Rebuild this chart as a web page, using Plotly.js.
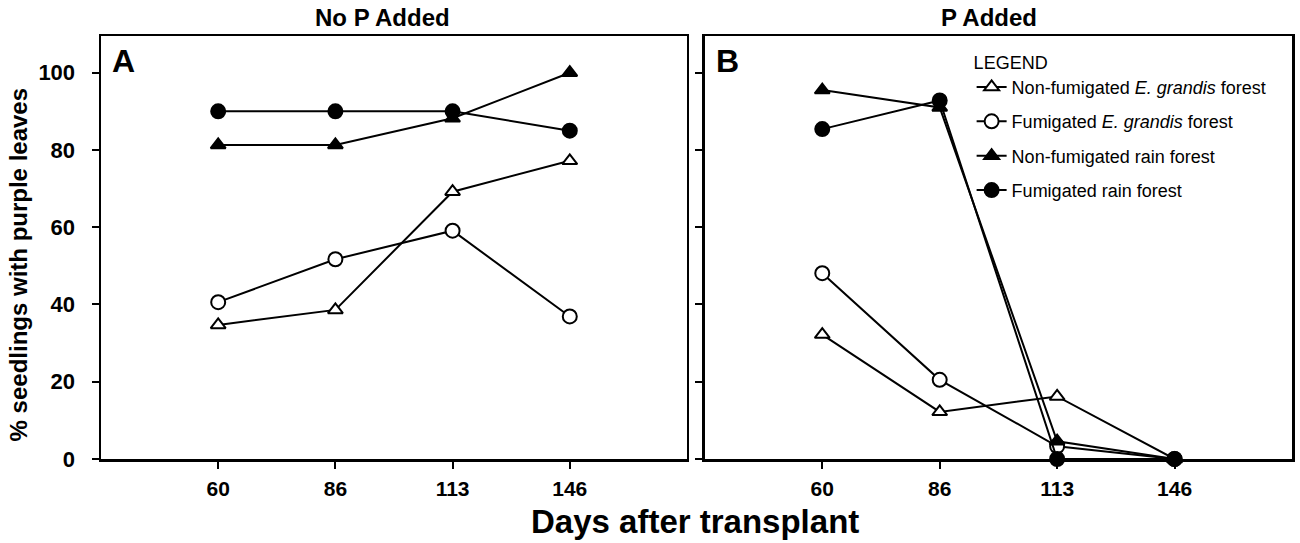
<!DOCTYPE html>
<html>
<head>
<meta charset="utf-8">
<script src="https://cdn.plot.ly/plotly-3.0.1.min.js"></script>
<style>html,body{margin:0;padding:0;background:#fff;}#chart{width:1300px;height:543px;}</style>
</head>
<body>
<div id="chart"></div>
<script>
const days = ['60', '86', '113', '146'];
const seriesNames = [
  'Non-fumigated <i>E. grandis</i> forest',
  'Fumigated <i>E. grandis</i> forest',
  'Non-fumigated rain forest',
  'Fumigated rain forest'
];
// Panel A: No P added
const noP_nonFumEgrandis = [34.7, 38.6, 69.2, 77.2];
const noP_fumEgrandis    = [40.6, 51.7, 59.1, 36.9];
const noP_nonFumRain     = [81.3, 81.3, 88.2, 100];
const noP_fumRain        = [90, 90, 90, 85];
// Panel B: P added
const p_nonFumEgrandis = [32.2, 12.2, 16.2, 0];
const p_fumEgrandis    = [48.1, 20.5, 3.3, 0];
const p_nonFumRain     = [95.5, 91, 4.6, 0];
const p_fumRain        = [85.4, 92.8, 0, 0];

const panelA = [noP_nonFumEgrandis, noP_fumEgrandis, noP_nonFumRain, noP_fumRain];
const panelB = [p_nonFumEgrandis, p_fumEgrandis, p_nonFumRain, p_fumRain];
const symbols = ['triangle-up', 'circle', 'triangle-up', 'circle'];
const fills = ['white', 'white', 'black', 'black'];
const sizes = [13, 14, 13, 14];

const FONT = 'Liberation Sans, Arial, Helvetica, sans-serif';
const traces = [];
function addPanel(data, xa, ya, showLegend) {
  data.forEach((vals, i) => {
    traces.push({
      type: 'scatter', mode: 'lines+markers',
      x: days, y: vals, xaxis: xa, yaxis: ya,
      name: seriesNames[i], legendgroup: 'g' + i,
      showlegend: showLegend, cliponaxis: false,
      line: {color: 'black', width: 2},
      marker: {symbol: symbols[i], size: sizes[i], color: fills[i],
               line: {color: 'black', width: 2}}
    });
  });
}
addPanel(panelA, 'x', 'y', false);
addPanel(panelB, 'x2', 'y2', true);

const xCommon = {
  type: 'category', range: [-1, 4], showgrid: false, zeroline: false,
  showline: true, linecolor: 'black', linewidth: 2.5, mirror: true,
  ticks: 'outside', ticklen: 7, tickwidth: 2, tickcolor: 'black',
  tickfont: {family: FONT, size: 21, weight: 'bold', color: 'black'},
  ticklabelstandoff: 2, fixedrange: true, automargin: false
};
const yCommon = {
  range: [0, 109.5], showgrid: false, zeroline: false,
  showline: true, linecolor: 'black', linewidth: 2.5, mirror: true,
  ticks: 'outside', ticklen: 7, tickwidth: 2, tickcolor: 'black',
  tickvals: [0, 20, 40, 60, 80, 100],
  tickfont: {family: FONT, size: 22, weight: 'bold', color: 'black'},
  ticklabelstandoff: 12, fixedrange: true, automargin: false
};

const layout = {
  width: 1300, height: 543,
  margin: {l: 101, r: 8, t: 36, b: 84, autoexpand: false},
  paper_bgcolor: 'white', plot_bgcolor: 'white',
  font: {family: FONT, color: 'black'},
  xaxis: Object.assign({}, xCommon, {domain: [0, 0.492], anchor: 'y'}),
  yaxis: Object.assign({}, yCommon, {anchor: 'x'}),
  xaxis2: Object.assign({}, xCommon, {domain: [0.507, 1], anchor: 'y2'}),
  yaxis2: Object.assign({}, yCommon, {anchor: 'x2', showticklabels: false}),
  showlegend: true,
  legend: {
    x: 0.731, y: 0.978, xanchor: 'left', yanchor: 'top',
    bgcolor: 'rgba(0,0,0,0)', borderwidth: 0,
    font: {family: FONT, size: 18, color: 'black'},
    title: {text: 'LEGEND', font: {family: FONT, size: 18, color: 'black'}},
    tracegroupgap: 8, itemwidth: 30
  },
  annotations: [
    {text: 'No P Added', xref: 'paper', yref: 'paper', x: 0.236, y: 1, yshift: 19,
     xanchor: 'center', yanchor: 'middle', showarrow: false,
     font: {family: FONT, size: 24, weight: 'bold'}},
    {text: 'P Added', xref: 'paper', yref: 'paper', x: 0.746, y: 1, yshift: 19,
     xanchor: 'center', yanchor: 'middle', showarrow: false,
     font: {family: FONT, size: 24, weight: 'bold'}},
    {text: 'A', xref: 'paper', yref: 'paper', x: 0.0185, y: 1, yshift: -25,
     xanchor: 'center', yanchor: 'middle', showarrow: false,
     font: {family: FONT, size: 32, weight: 'bold'}},
    {text: 'B', xref: 'paper', yref: 'paper', x: 0.5257, y: 1, yshift: -25,
     xanchor: 'center', yanchor: 'middle', showarrow: false,
     font: {family: FONT, size: 32, weight: 'bold'}},
    {text: '% seedlings with purple leaves', xref: 'paper', yref: 'paper',
     x: -0.0697, y: 0.46, textangle: -90, xanchor: 'center', yanchor: 'middle',
     showarrow: false, font: {family: FONT, size: 24, weight: 'bold'}},
    {text: 'Days after transplant', xref: 'paper', yref: 'paper',
     x: 0.4987, y: 0, yshift: -62, xanchor: 'center', yanchor: 'middle',
     showarrow: false, font: {family: FONT, size: 33, weight: 'bold'}}
  ]
};

Plotly.newPlot('chart', traces, layout, {displayModeBar: false, staticPlot: true});
</script>
</body>
</html>
